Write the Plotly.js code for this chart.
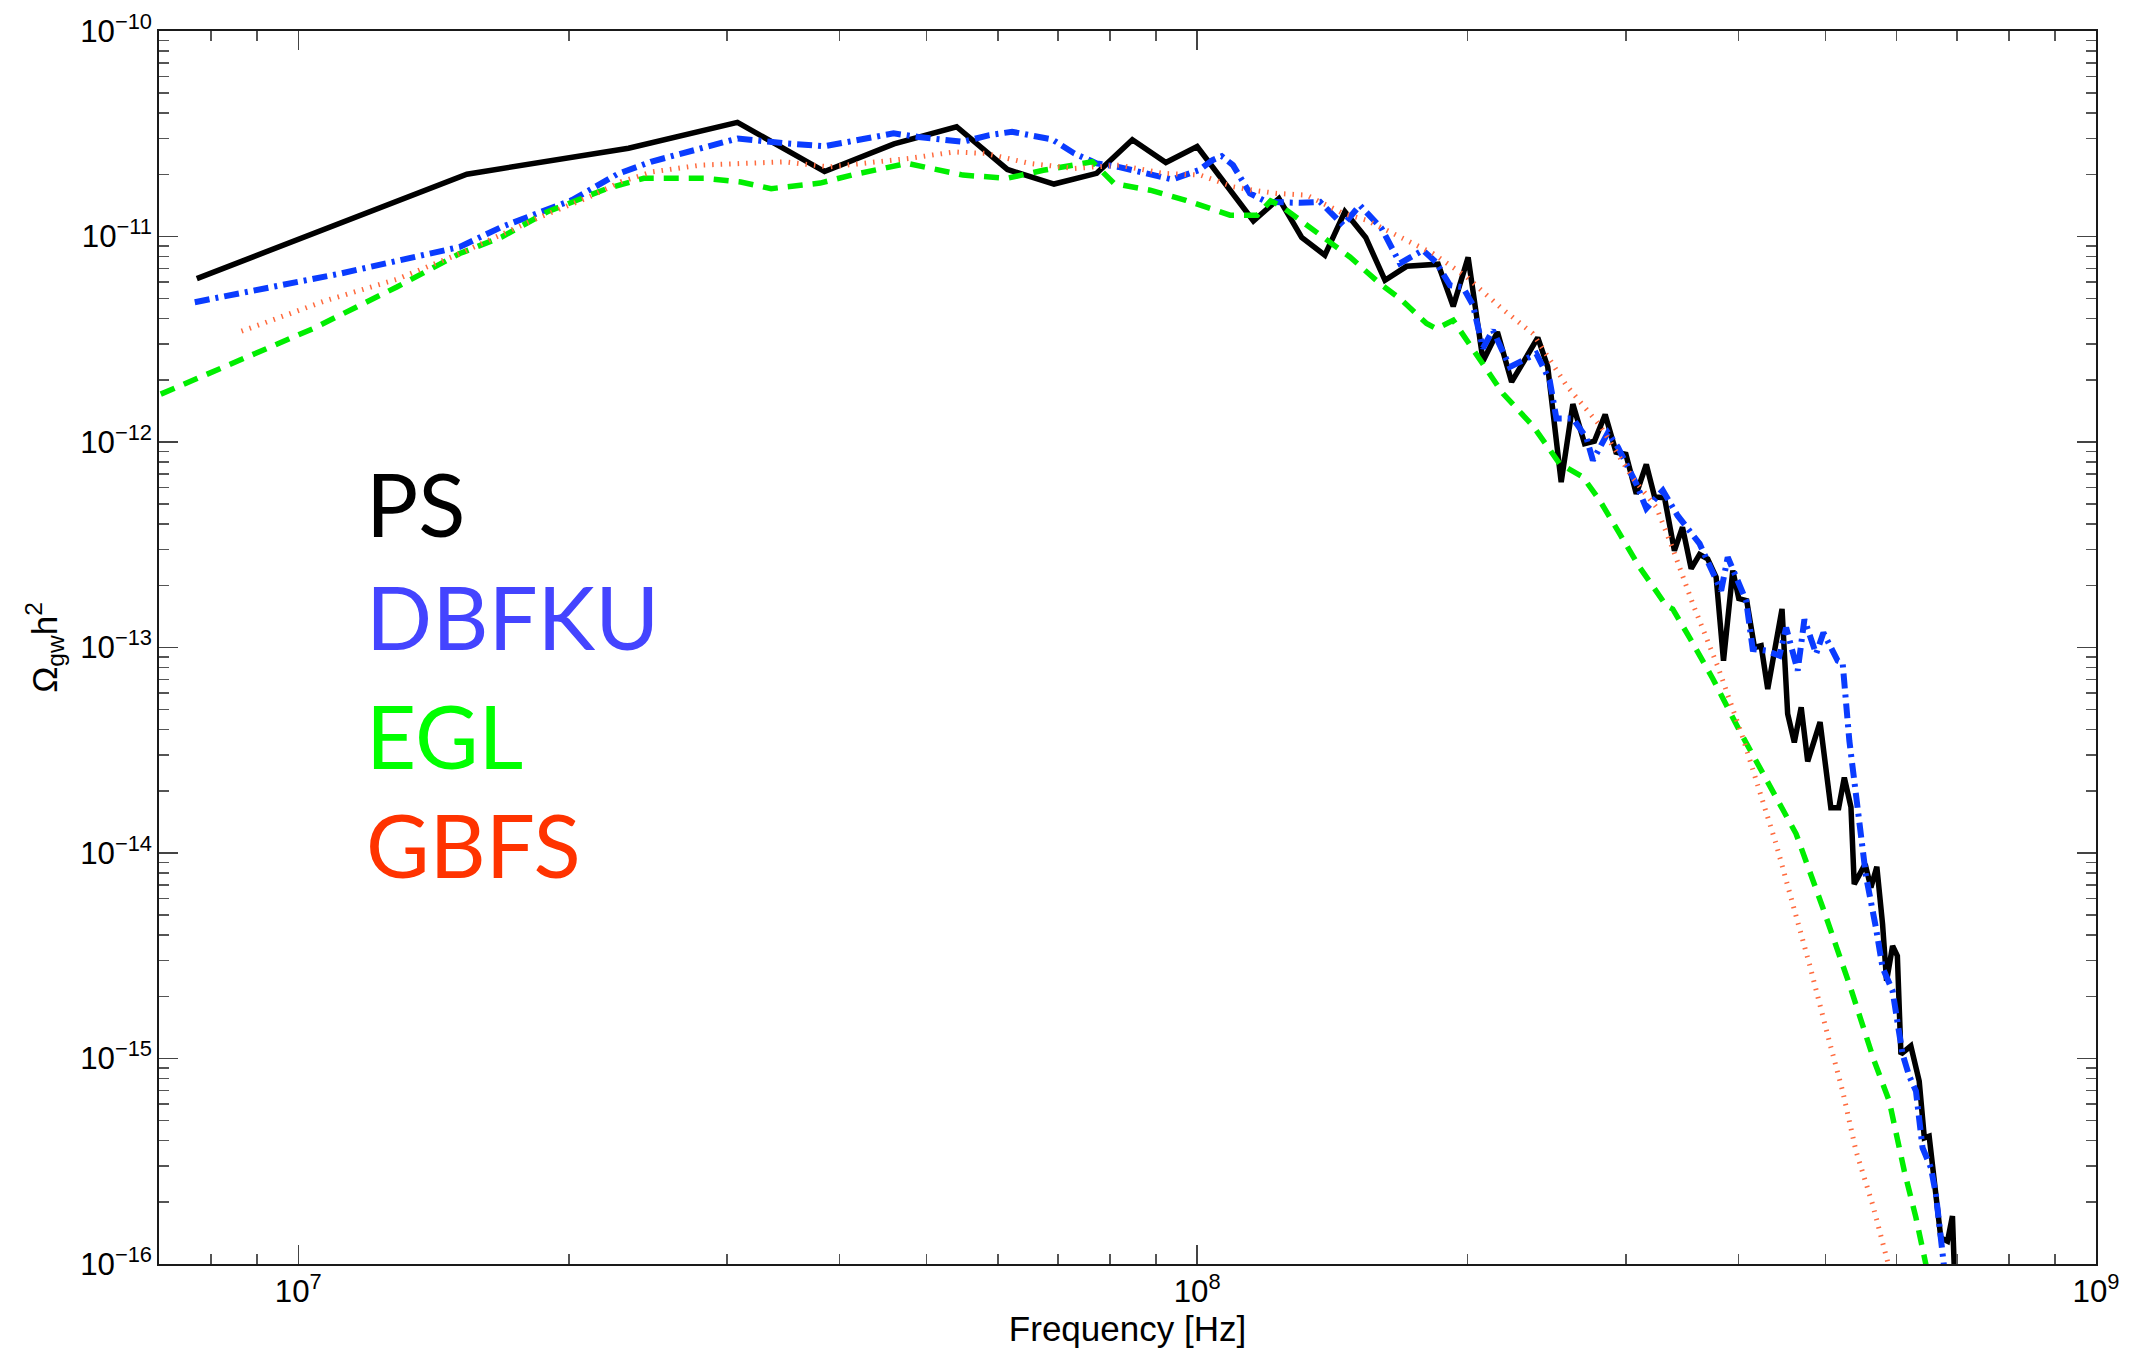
<!DOCTYPE html>
<html>
<head>
<meta charset="utf-8">
<script src="https://cdn.plot.ly/plotly-3.0.1.min.js"></script>
<style>
  html, body { margin: 0; padding: 0; background: #ffffff; }
  #chart { width: 2132px; height: 1351px; }
</style>
</head>
<body>
<div id="chart"></div>
<script>
// ---- Data ----
const seriesNames = ["PS", "DBFKU", "EGL", "GBFS"];

const psFreq = [7.71e6, 1.54e7, 2.33e7, 3.08e7, 3.85e7, 4.60e7, 5.40e7, 6.15e7, 6.93e7, 7.73e7,
  8.47e7, 9.23e7, 1.00e8, 1.155e8, 1.233e8, 1.307e8, 1.387e8, 1.460e8, 1.540e8, 1.618e8,
  1.710e8, 1.854e8, 1.927e8, 2.002e8, 2.080e8, 2.158e8, 2.238e8, 2.393e8, 2.455e8, 2.541e8,
  2.618e8, 2.698e8, 2.767e8, 2.844e8, 2.924e8, 2.999e8, 3.080e8, 3.160e8, 3.228e8, 3.311e8,
  3.396e8, 3.467e8, 3.545e8, 3.622e8, 3.698e8, 3.779e8, 3.851e8, 3.944e8, 4.005e8, 4.087e8,
  4.169e8, 4.241e8, 4.313e8, 4.474e8, 4.539e8, 4.617e8, 4.699e8, 4.778e8, 4.932e8, 5.070e8,
  5.173e8, 5.248e8, 5.338e8, 5.383e8, 5.536e8, 5.618e8, 5.704e8, 5.788e8, 5.848e8, 5.939e8,
  6.012e8, 6.067e8, 6.223e8, 6.358e8, 6.442e8, 6.522e8, 6.720e8, 6.836e8, 6.923e8, 6.966e8];
const psOmega = [6.24e-12, 2.01e-11, 2.69e-11, 3.59e-11, 2.07e-11, 2.82e-11, 3.42e-11, 2.12e-11, 1.80e-11, 2.03e-11,
  2.96e-11, 2.29e-11, 2.74e-11, 1.19e-11, 1.53e-11, 9.89e-12, 8.11e-12, 1.32e-11, 9.89e-12, 6.12e-12,
  7.16e-12, 7.33e-12, 4.57e-12, 7.91e-12, 2.48e-12, 3.43e-12, 1.96e-12, 3.22e-12, 2.32e-12, 6.38e-13,
  1.53e-12, 9.82e-13, 1.01e-12, 1.36e-12, 8.93e-13, 8.71e-13, 5.60e-13, 7.78e-13, 5.40e-13, 5.36e-13,
  2.96e-13, 3.85e-13, 2.42e-13, 2.84e-13, 2.70e-13, 2.20e-13, 8.63e-14, 2.37e-13, 1.73e-13, 1.69e-13,
  1.00e-13, 1.02e-13, 6.28e-14, 1.54e-13, 4.75e-14, 3.45e-14, 5.12e-14, 2.79e-14, 4.33e-14, 1.66e-14,
  1.66e-14, 2.33e-14, 1.67e-14, 7.06e-15, 8.83e-15, 6.79e-15, 8.57e-15, 4.51e-15, 2.39e-15, 3.53e-15,
  3.16e-15, 1.05e-15, 1.15e-15, 7.76e-16, 4.11e-16, 4.19e-16, 1.34e-16, 1.29e-16, 1.71e-16, 7.9e-17];

const dbfkuFreq = [7.67e6, 1.115e7, 1.512e7, 1.684e7, 2.016e7, 2.265e7, 2.467e7, 3.083e7, 3.476e7, 3.851e7,
  4.595e7, 4.896e7, 5.488e7, 5.873e7, 6.223e7, 6.898e7, 7.300e7, 7.732e7, 8.191e7, 8.667e7,
  9.380e7, 1.005e8, 1.040e8, 1.065e8, 1.096e8, 1.145e8, 1.195e8, 1.301e8, 1.370e8, 1.454e8,
  1.517e8, 1.604e8, 1.681e8, 1.783e8, 1.844e8, 1.911e8, 1.976e8, 2.027e8, 2.079e8, 2.133e8,
  2.228e8, 2.384e8, 2.467e8, 2.510e8, 2.619e8, 2.710e8, 2.756e8, 2.864e8, 2.938e8, 3.080e8,
  3.160e8, 3.297e8, 3.423e8, 3.622e8, 3.747e8, 3.828e8, 3.893e8, 4.081e8, 4.150e8, 4.295e8,
  4.444e8, 4.521e8, 4.657e8, 4.738e8, 4.882e8, 4.974e8, 5.159e8, 5.225e8, 5.316e8, 5.383e8,
  5.477e8, 5.547e8, 5.690e8, 5.788e8, 5.939e8, 6.014e8, 6.092e8, 6.197e8, 6.305e8, 6.412e8,
  6.551e8, 6.636e8, 6.720e8, 6.795e8];
const dbfkuOmega = [4.79e-12, 6.61e-12, 8.90e-12, 1.114e-11, 1.503e-11, 2.012e-11, 2.309e-11, 3.00e-11, 2.84e-11, 2.75e-11,
  3.176e-11, 3.05e-11, 2.89e-11, 3.115e-11, 3.233e-11, 2.968e-11, 2.537e-11, 2.268e-11, 2.176e-11, 2.064e-11,
  1.895e-11, 2.104e-11, 2.353e-11, 2.461e-11, 2.225e-11, 1.620e-11, 1.474e-11, 1.458e-11, 1.474e-11, 1.135e-11,
  1.420e-11, 1.094e-11, 7.41e-12, 8.58e-12, 7.50e-12, 5.79e-12, 5.66e-12, 4.63e-12, 2.86e-12, 3.50e-12,
  2.32e-12, 2.69e-12, 2.00e-12, 1.30e-12, 1.30e-12, 1.05e-12, 8.14e-13, 1.11e-12, 9.45e-13, 6.26e-13,
  4.75e-13, 5.81e-13, 4.39e-13, 3.20e-13, 2.37e-13, 1.89e-13, 2.75e-13, 1.69e-13, 9.84e-14, 9.66e-14,
  9.13e-14, 1.25e-13, 7.72e-14, 1.37e-13, 9.31e-14, 1.18e-13, 8.63e-14, 8.44e-14, 3.52e-14, 2.17e-14,
  1.24e-14, 7.74e-15, 4.34e-15, 2.77e-15, 2.13e-15, 1.52e-15, 1.05e-15, 8.22e-16, 6.95e-16, 3.68e-16,
  2.94e-16, 2.18e-16, 1.24e-16, 8.7e-17];

const eglFreq = [7.03e6, 1.038e7, 1.287e7, 1.512e7, 1.684e7, 1.893e7, 2.204e7, 2.423e7, 2.830e7, 3.106e7,
  3.358e7, 3.807e7, 4.126e7, 4.758e7, 5.488e7, 6.150e7, 6.742e7, 7.643e7, 8.087e7, 8.867e7,
  9.714e7, 1.088e8, 1.166e8, 1.207e8, 1.236e8, 1.335e8, 1.479e8, 1.597e8, 1.681e8, 1.800e8,
  1.846e8, 1.927e8, 1.994e8, 2.080e8, 2.189e8, 2.363e8, 2.531e8, 2.687e8, 2.805e8, 2.951e8,
  3.106e8, 3.325e8, 3.381e8, 3.529e8, 3.747e8, 4.012e8, 4.369e8, 4.638e8, 4.966e8, 5.316e8,
  5.666e8, 5.888e8, 6.120e8, 6.305e8, 6.468e8, 6.540e8];
const eglOmega = [1.71e-12, 3.56e-12, 5.68e-12, 8.26e-12, 9.95e-12, 1.32e-11, 1.71e-11, 1.92e-11, 1.92e-11, 1.84e-11,
  1.71e-11, 1.82e-11, 1.99e-11, 2.27e-11, 1.99e-11, 1.92e-11, 2.10e-11, 2.31e-11, 1.81e-11, 1.68e-11,
  1.50e-11, 1.27e-11, 1.27e-11, 1.49e-11, 1.42e-11, 1.11e-11, 7.95e-12, 5.90e-12, 4.99e-12, 3.77e-12,
  3.56e-12, 3.91e-12, 3.13e-12, 2.41e-12, 1.72e-12, 1.20e-12, 7.84e-13, 6.75e-13, 5.19e-13, 3.58e-13,
  2.46e-13, 1.60e-13, 1.54e-13, 1.12e-13, 7.05e-14, 3.94e-14, 2.01e-14, 1.24e-14, 5.43e-15, 2.30e-15,
  9.72e-16, 6.21e-16, 2.83e-16, 1.68e-16, 9.95e-17, 7.80e-17];

const gbfsFreq = [8.646e6, 1.075e7, 1.287e7, 1.512e7, 1.842e7, 2.109e7, 2.285e7, 2.477e7, 2.804e7, 3.476e7,
  3.896e7, 4.365e7, 4.786e7, 5.365e7, 5.811e7, 6.514e7, 7.300e7, 8.185e7, 9.178e7, 1.008e8,
  1.097e8, 1.153e8, 1.226e8, 1.324e8, 1.394e8, 1.454e8, 1.544e8, 1.652e8, 1.830e8, 1.994e8,
  2.172e8, 2.363e8, 2.575e8, 2.805e8, 3.054e8, 3.242e8, 3.381e8, 3.559e8, 3.792e8, 4.046e8,
  4.223e8, 4.407e8, 4.599e8, 4.799e8, 5.049e8, 5.225e8, 5.408e8, 5.642e8, 5.863e8, 5.919e8];
const gbfsOmega = [3.46e-12, 4.89e-12, 6.19e-12, 8.26e-12, 1.224e-11, 1.56e-11, 1.845e-11, 2.064e-11, 2.225e-11, 2.309e-11,
  2.18e-11, 2.309e-11, 2.40e-11, 2.58e-11, 2.537e-11, 2.268e-11, 2.144e-11, 2.225e-11, 2.027e-11, 1.99e-11,
  1.744e-11, 1.68e-11, 1.62e-11, 1.589e-11, 1.42e-11, 1.294e-11, 1.20e-11, 1.034e-11, 8.26e-12, 6.36e-12,
  4.54e-12, 3.37e-12, 1.887e-12, 1.205e-12, 6.65e-13, 4.82e-13, 3.03e-13, 1.636e-13, 8.16e-14, 3.65e-14,
  2.01e-14, 1.105e-14, 5.64e-15, 2.88e-15, 1.217e-15, 6.95e-16, 3.54e-16, 1.95e-16, 1.03e-16, 8.24e-17];

// ---- Styles ----
const lineColors = ["#000000", "#0a3cff", "#00ee00", "#ff6a3d"];
const labelColors = ["#000000", "#4444ff", "#00ff00", "#ff3300"];

const traces = [
  { x: psFreq, y: psOmega, name: seriesNames[0], mode: "lines",
    line: { color: lineColors[0], width: 5.5 } },
  { x: dbfkuFreq, y: dbfkuOmega, name: seriesNames[1], mode: "lines",
    line: { color: lineColors[1], width: 6, dash: "15px,6px,3px,6px" } },
  { x: eglFreq, y: eglOmega, name: seriesNames[2], mode: "lines",
    line: { color: lineColors[2], width: 5.5, dash: "15px,10px" } },
  { x: gbfsFreq, y: gbfsOmega, name: seriesNames[3], mode: "lines",
    line: { color: lineColors[3], width: 5, dash: "1.5px,7px" } }
];

const tickFont = { family: "Liberation Sans, Arial, sans-serif", size: 25, color: "#000" };
const titleFont = { family: "Liberation Sans, Arial, sans-serif", size: 35, color: "#000" };

const legendY = [0.617, 0.5255, 0.429, 0.34];
const annotations = seriesNames.map((n, i) => ({
  text: n, xref: "paper", yref: "paper", x: 0.106, y: legendY[i],
  xanchor: "left", yanchor: "middle", showarrow: false,
  font: { family: "Lato, 'Noto Sans', sans-serif", size: 87, color: labelColors[i] }
}));

const axisCommon = {
  type: "log",
  showgrid: false, zeroline: false,
  showline: true, linecolor: "#1a1a1a", linewidth: 2, mirror: "ticks",
  ticks: "inside", ticklen: 19, tickwidth: 1.5, tickcolor: "#444",
  dtick: 1, exponentformat: "power", showexponent: "all",
  tickfont: tickFont,
  minor: { ticks: "inside", ticklen: 10, tickwidth: 1.5, tickcolor: "#555", dtick: "D1", showgrid: false }
};

const layout = {
  width: 2132, height: 1351,
  margin: { l: 159, r: 36, t: 31, b: 87, pad: 0 },
  paper_bgcolor: "#ffffff", plot_bgcolor: "#ffffff",
  showlegend: false,
  xaxis: Object.assign({}, axisCommon, {
    range: [6.845, 9],
    title: { text: "Frequency [Hz]", font: titleFont, standoff: 6 },
    automargin: false
  }),
  yaxis: Object.assign({}, axisCommon, {
    range: [-16, -10],
    title: { text: "Ω<sub>gw</sub>h<sup>2</sup>", font: titleFont, standoff: 12 },
    automargin: false
  }),
  annotations: annotations
};

Plotly.newPlot("chart", traces, layout, { displayModeBar: false, staticPlot: true });
</script>
</body>
</html>
